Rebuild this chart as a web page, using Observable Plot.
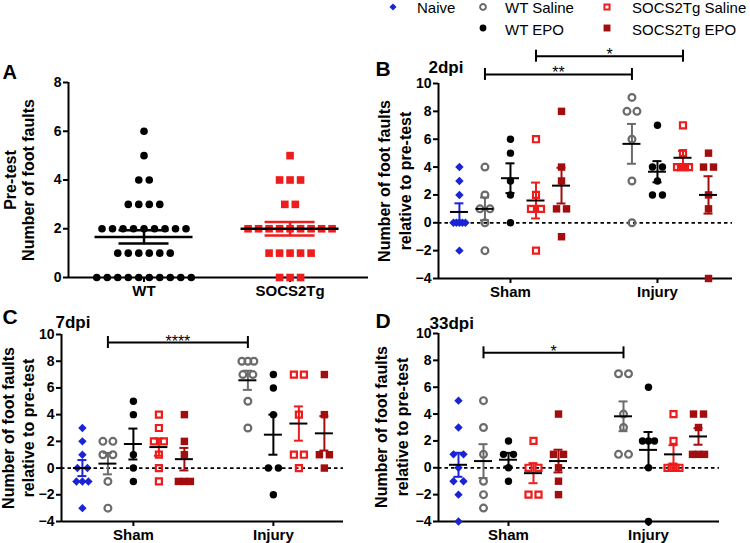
<!DOCTYPE html>
<html><head><meta charset="utf-8">
<script src="https://cdn.jsdelivr.net/npm/d3@7"></script>
<script src="https://cdn.jsdelivr.net/npm/@observablehq/plot@0.6"></script>
<style>
body{margin:0;background:#fff;font-family:"Liberation Sans",Arial,sans-serif;}
#root{position:relative;width:750px;height:543px;overflow:hidden;background:#fff;}
.leg{position:absolute;font-size:15px;line-height:15px;color:#000;white-space:nowrap;}
.ytitle{position:absolute;font-size:16px;font-weight:bold;color:#000;text-align:center;white-space:nowrap;transform:rotate(-90deg);transform-origin:50% 50%;}
</style></head><body><div id="root"></div>
<script>
// ---------- data ----------
const groups = ["Naive", "WT Saline", "WT EPO", "SOCS2Tg Saline", "SOCS2Tg EPO"];
const conditions = ["Sham", "Injury"];
const genotypes = ["WT", "SOCS2Tg"];
const pretestWT = [6,5,4,4,3,3,3,3,2,2,2,2,2,2,2,2,2,1,1,1,1,1,1,0,0,0,0,0,0,0,0,0,0];
const pretestSOCS2Tg = [5,4,4,4,3,3,2,2,2,2,2,2,2,2,2,1,1,1,1,1,0,0,0];
const dpi2Sham   = [[4,3,2,0,0,0,0,0,-2], [4,2,1,1,0,-2], [6,5,3,2,0], [6,2,1,1,-2], [8,4,3,1,1,-1]];
const dpi2Injury = [[], [9,8,8,6,3,0], [7,4,4,3,2,2], [7,5,4,4,4,4], [5,4,4,2,1,-4]];
const dpi7Sham   = [[3,2,1,0,0,-1,-1,-1,-3], [2,2,1,1,-1,-3], [5,4,1,0,-1], [4,3,2,2,1,0,-1], [4,2,1,-1,-1,-1]];
const dpi7Injury = [[], [8,8,8,7,7,5,3], [7,6,4,0,0,-2], [7,7,4,1,1,0], [7,4,1,1,0]];
const dpi33Sham   = [[5,3,1,1,0,-1,-1,-2,-4], [5,3,1,-1,-2,-3], [2,1,1,0,-1], [2,0,0,-2,-2], [4,1,1,0,-1,-2]];
const dpi33Injury = [[], [7,7,4,3,1,1], [6,2,2,2,0,-4], [4,2,0,0,0,0], [4,4,3,1,1,1]];
const yTicksA = [0,2,4,6,8];
const yTicksDpi = [-4,-2,0,2,4,6,8,10];
const sig2Labels = ["**", "*"], sig2Groups = ["WT Saline", "SOCS2Tg Saline"], sig2Levels = [10.65, 11.96];
const sig7Labels = ["****"], sig7Groups = ["WT Saline"], sig7Levels = [9.4];
const sig33Labels = ["*"], sig33Groups = ["WT Saline"], sig33Levels = [8.56];
const yTitleA = ["Pre-test", "Number of foot faults"];
const yTitleDpi = ["Number of foot faults", "relative to pre-test"];

// ---------- styles ----------
const FONT = '"Liberation Sans", Arial, Helvetica, sans-serif';
const sty = {
  "Naive":          {symbol: "diamond2", fill: "#1a24d4", stroke: "none", sw: 0, r: 3.8, bar: "#1a24d4"},
  "WT Saline":      {symbol: "circle", fill: "none", stroke: "#6b6b6b", sw: 2.2, r: 3.4, bar: "#6b6b6b"},
  "WT EPO":         {symbol: "circle", fill: "#000", stroke: "none", sw: 0, r: 3.7, bar: "#000"},
  "SOCS2Tg Saline": {symbol: "square", fill: "none", stroke: "#ee1c1c", sw: 2.2, r: 3.4, bar: "#ee1c1c"},
  "SOCS2Tg EPO":    {symbol: "square", fill: "#a30d0d", stroke: "none", sw: 0, r: 4.2, bar: "#a30d0d"}
};

function spread(values) {
  const counts = d3.rollup(values, v => v.length, d => d);
  const seen = new Map();
  return values.map(v => { const n = counts.get(v); const k = seen.get(v) || 0; seen.set(v, k + 1); return {v, k, n}; });
}
function stats(values) {
  const m = d3.mean(values);
  const s = values.length > 1 ? d3.deviation(values) / Math.sqrt(values.length) : 0;
  return {m, lo: m - s, hi: m + s};
}
const baseStyle = {fontFamily: FONT, fontWeight: "bold", color: "#000", background: "transparent", overflow: "visible"};

function errorMarks(st, colorOf, ppu, meanPx, capPx, sw) {
  const out = [];
  const keys = [...new Set(st.map(d => d.g))];
  keys.forEach(g => {
    const data = st.filter(d => d.g === g);
    const c = colorOf(g);
    out.push(Plot.ruleX(data, {x: "x", y1: "lo", y2: "hi", stroke: c, strokeWidth: sw}));
    out.push(Plot.ruleY(data, {y: "lo", x1: d => d.x - capPx / ppu, x2: d => d.x + capPx / ppu, stroke: c, strokeWidth: sw}));
    out.push(Plot.ruleY(data, {y: "hi", x1: d => d.x - capPx / ppu, x2: d => d.x + capPx / ppu, stroke: c, strokeWidth: sw}));
  });
  out.push(Plot.ruleY(st, {y: "m", x1: d => d.x - meanPx / ppu, x2: d => d.x + meanPx / ppu, stroke: "#000", strokeWidth: sw}));
  return out;
}

// ---------- panel A ----------
function panelA() {
  const width = 370, height = 260, ml = 68, mr = 2, mt = 42, mb = 23, xmin = -0.517, xmax = 1.537;
  const ppu = (width - ml - mr) / (xmax - xmin);
  const pts = [], st = [];
  [pretestWT, pretestSOCS2Tg].forEach((vals, gi) => {
    spread(vals).forEach(({v, k, n}) => pts.push({x: gi + (k - (n - 1) / 2) * 10.5 / ppu, y: v, g: gi}));
    st.push({x: gi, ...stats(vals), g: gi});
  });
  const cols = ["#000", "#ee1c1c"];
  return Plot.plot({
    width, height, marginLeft: ml, marginRight: mr, marginTop: mt, marginBottom: mb,
    x: {domain: [xmin, xmax]}, y: {domain: [0, 8]},
    style: baseStyle,
    marks: [
      Plot.ruleX([xmin], {y1: 0, y2: 8, strokeWidth: 2}),
      Plot.ruleY([0], {strokeWidth: 2}),
      Plot.axisY({ticks: yTicksA, tickSize: 5, tickPadding: 2, fontSize: 14, fontWeight: "bold", strokeWidth: 2, label: null}),
      Plot.axisX({ticks: [0, 1], tickFormat: d => genotypes[Math.round(d)], tickSize: 5, tickPadding: 3, fontSize: 15, fontWeight: "bold", strokeWidth: 2, label: null}),
      Plot.dot(pts.filter(d => d.g === 0), {x: "x", y: "y", r: 3.8, fill: "#000"}),
      Plot.dot(pts.filter(d => d.g === 1), {x: "x", y: "y", r: 4.3, symbol: "square", fill: "#ee1c1c"}),
      ...errorMarks(st, g => cols[g], ppu, 49, 25, 2.5),
      Plot.text(["A"], {text: d => d, frameAnchor: "top-left", dx: -66, dy: -4, textAnchor: "start", lineAnchor: "bottom", fontSize: 20, fontWeight: "bold"})
    ]
  });
}

// ---------- dpi panels ----------
function dpiPanel(c) {
  const {width, height, ml, mr, mt, mb, xmin, xmax, off, sham, injury} = c;
  const ppu = (width - ml - mr) / (xmax - xmin);
  const yppu = (height - mt - mb) / 14;
  const pts = [], st = [];
  [sham, injury].forEach((sets, ci) => {
    sets.forEach((vals, gi) => {
      if (!vals.length) return;
      const cx = ci * off + gi;
      spread(vals).forEach(({v, k, n}) => {
        const s = n === 1 ? 0 : (n === 2 ? 10 : 12 / (n - 1));
        pts.push({x: cx + (k - (n - 1) / 2) * s / ppu, y: v, g: groups[gi]});
      });
      st.push({x: cx, ...stats(vals), g: groups[gi]});
    });
  });
  const sig = c.sigLabels.map((l, i) => { const gi = groups.indexOf(c.sigGroups[i]); return {x1: gi, x2: gi + off, y: c.sigLevels[i], label: l}; });
  const capH = 6 / yppu;
  return Plot.plot({
    width, height, marginLeft: ml, marginRight: mr, marginTop: mt, marginBottom: mb,
    x: {domain: [xmin, xmax]}, y: {domain: [-4, 10]},
    style: baseStyle,
    marks: [
      Plot.ruleX([xmin], {y1: -4, y2: 10, strokeWidth: 2}),
      Plot.ruleY([-4], {strokeWidth: 2}),
      Plot.ruleY([0], {strokeDasharray: "3.5,3", strokeWidth: 1.8}),
      Plot.axisY({ticks: yTicksDpi, tickSize: 5, tickPadding: 2, fontSize: 14, fontWeight: "bold", strokeWidth: 2, label: null}),
      Plot.axisX({ticks: [2, 2 + off], tickFormat: d => conditions[d < 2 + off / 2 ? 0 : 1], tickSize: 5, tickPadding: 3, fontSize: 15, fontWeight: "bold", strokeWidth: 2, label: null}),
      ...groups.map(g => Plot.dot(pts.filter(d => d.g === g), {x: "x", y: "y", symbol: sty[g].symbol, r: sty[g].r, fill: sty[g].fill, stroke: sty[g].stroke, strokeWidth: sty[g].sw})),
      ...errorMarks(st, g => sty[g].bar, ppu, 9, 4.5, 2),
      Plot.ruleY(sig, {y: "y", x1: "x1", x2: "x2", strokeWidth: 2}),
      Plot.ruleX(sig, {x: "x1", y1: d => d.y - capH, y2: d => d.y + capH, strokeWidth: 2}),
      Plot.ruleX(sig, {x: "x2", y1: d => d.y - capH, y2: d => d.y + capH, strokeWidth: 2}),
      Plot.text(sig, {x: d => (d.x1 + d.x2) / 2, y: "y", text: "label", lineAnchor: "bottom", dy: 4, fontSize: 16, fontWeight: "normal"}),
      Plot.text([c.letter], {text: d => d, frameAnchor: "top-left", dx: c.lDx, dy: c.lDy, textAnchor: "start", lineAnchor: "bottom", fontSize: 21, fontWeight: "bold"}),
      Plot.text([c.title], {text: d => d, frameAnchor: "top-left", dx: c.tDx, dy: c.tDy, textAnchor: "start", lineAnchor: "bottom", fontSize: 17, fontWeight: "bold"})
    ]
  });
}

const root = document.getElementById("root");
function place(el, left, top) { el.style.position = "absolute"; el.style.left = left + "px"; el.style.top = top + "px"; root.appendChild(el); }
function yTitle(lines, cx, cy, lh) {
  const W = 240, H = lines.length * lh;
  const d = document.createElement("div");
  d.className = "ytitle";
  d.style.width = W + "px"; d.style.height = H + "px"; d.style.lineHeight = lh + "px";
  lines.forEach((l, i) => { if (i) d.appendChild(document.createElement("br")); d.appendChild(document.createTextNode(l)); });
  place(d, cx - W / 2, cy - H / 2);
}

place(panelA(), 0, 40);
place(dpiPanel({width: 380, height: 260, ml: 68, mr: 18, mt: 43, mb: 22, xmin: -0.82, xmax: 10.7, off: 5.76,
  sham: dpi2Sham, injury: dpi2Injury, sigLabels: sig2Labels, sigGroups: sig2Groups, sigLevels: sig2Levels,
  letter: "B", title: "2dpi", lDx: -63, lDy: -8, tDx: -10, tDy: -11}), 370, 40);
place(dpiPanel({width: 370, height: 253, ml: 61, mr: 27, mt: 44, mb: 22, xmin: -0.82, xmax: 10.24, off: 5.49,
  sham: dpi7Sham, injury: dpi7Injury, sigLabels: sig7Labels, sigGroups: sig7Groups, sigLevels: sig7Levels,
  letter: "C", title: "7dpi", lDx: -59, lDy: -11, tDx: -6, tDy: -7}), 0, 290);
place(dpiPanel({width: 380, height: 253, ml: 68, mr: 31, mt: 43, mb: 22, xmin: -0.8, xmax: 10.44, off: 5.6,
  sham: dpi33Sham, injury: dpi33Injury, sigLabels: sig33Labels, sigGroups: sig33Groups, sigLevels: sig33Levels,
  letter: "D", title: "33dpi", lDx: -63, lDy: -6, tDx: -9, tDy: -5}), 370, 290);

yTitle(yTitleA, 20, 180, 18);
yTitle(yTitleDpi, 395, 181, 21);
yTitle(yTitleDpi, 19, 428, 20);
yTitle(yTitleDpi, 392, 427, 21);

// ---------- legend ----------
const legendItems = [
  {g: "Naive", sx: 393, tx: 417, row: 0, size: 3.2},
  {g: "WT Saline", sx: 483, tx: 505, row: 0, size: 2.9},
  {g: "SOCS2Tg Saline", sx: 607, tx: 632, row: 0, size: 2.9},
  {g: "WT EPO", sx: 483, tx: 505, row: 1, size: 3.4},
  {g: "SOCS2Tg EPO", sx: 607, tx: 632, row: 1, size: 3.9}
];
const symMap = {circle: d3.symbolCircle, square: d3.symbolSquare, diamond2: d3.symbolDiamond2};
legendItems.forEach(it => {
  const s = sty[it.g];
  const cy = it.row === 0 ? 7 : 28.3;
  const svg = d3.create("svg").attr("width", 14).attr("height", 14).style("overflow", "visible");
  svg.append("path").attr("transform", "translate(7,7)")
    .attr("d", d3.symbol(symMap[s.symbol], Math.PI * it.size * it.size)())
    .attr("fill", s.fill).attr("stroke", s.stroke).attr("stroke-width", s.sw ? 2 : 0);
  place(svg.node(), it.sx - 7, cy - 7);
  const t = document.createElement("div");
  t.className = "leg"; t.textContent = it.g;
  place(t, it.tx, it.row === 0 ? 0 : 21.5);
});
</script></body></html>
